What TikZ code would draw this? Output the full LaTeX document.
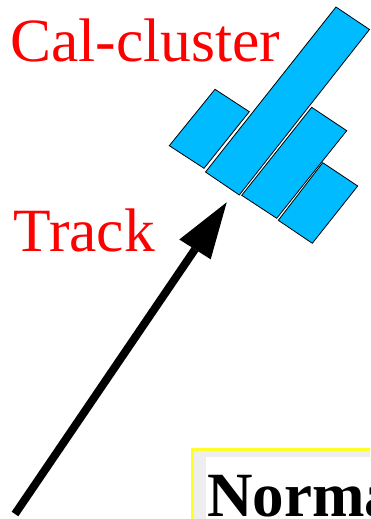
\documentclass[tikz,border=0pt]{standalone}
\usepackage{fontspec}
\setmainfont{Liberation Serif}
\definecolor{calblue}{RGB}{0,187,255}
\definecolor{boxgray}{RGB}{238,238,238}
\definecolor{boxyellow}{RGB}{255,255,40}
\begin{document}
\begin{tikzpicture}[x=1pt,y=-1pt,
  cell/.style={fill=calblue,draw=black,line width=0.8pt,line join=miter},
  lbl/.style={anchor=base west,inner sep=0pt,text=red,font=\fontsize{61.5}{61.5}\selectfont}]
\useasboundingbox (0,0) rectangle (370,519);
\clip (0,0) rectangle (370,519);
% calorimeter cells
\draw[cell] (336,7) -- (369.5,29.5) -- (239.3,195) -- (205.5,172) -- cycle;
\draw[cell] (215,89.3) -- (249.3,111.7) -- (204,168.3) -- (169.3,145.7) -- cycle;
\draw[cell] (311.7,107.3) -- (346.7,130.7) -- (276.7,218.3) -- (241.7,195.3) -- cycle;
\draw[cell] (322.7,162.7) -- (357.7,186) -- (312.3,243.3) -- (278.3,220.3) -- cycle;
% labels
\node[lbl] (cal) at (10,62) {Cal-cluster};
\node[lbl] (trk) at (13.5,251.7) {Track};
% track arrow
\coordinate (tail) at (15,514);
\coordinate (base) at (195,249.3);
\coordinate (tip) at (226.7,202.3);
\coordinate (hl) at (179.3,239.5);
\coordinate (hr) at (210.7,259.3);
\draw[line width=8pt] (tail) -- (base);
\fill (tip) -- (hl) -- (hr) -- cycle;
% bottom box
\draw[draw=boxyellow,fill=boxgray,line width=2.5pt] (192.5,449.5) rectangle (420,560);
\fill[white] (206,457) rectangle (420,560);
\node[anchor=base west,inner sep=0pt,font=\fontsize{63}{63}\selectfont\bfseries] (norm) at (207,516) {Norma};
\end{tikzpicture}
\end{document}
